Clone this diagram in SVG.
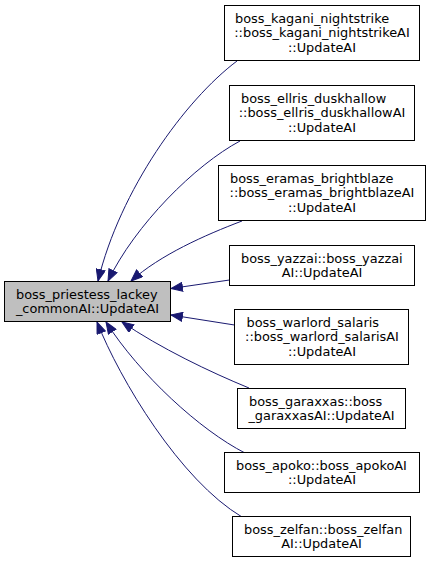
<svg xmlns="http://www.w3.org/2000/svg" width="431" height="566" viewBox="0 0 431 566">
<style>
.n rect{fill:#ffffff;stroke:#000000;stroke-width:1}
#main rect{fill:#bfbfbf}
text{font-family:"DejaVu Sans","Liberation Sans",sans-serif;font-size:12.9px;fill:#000000}
.m{text-anchor:middle}
.e path{fill:none;stroke:#191970;stroke-width:1;marker-end:url(#ah)}
</style>
<defs>
<marker id="ah" markerUnits="userSpaceOnUse" markerWidth="13" markerHeight="10" refX="12" refY="5" orient="auto">
<path d="M0.5,0.5 L12,5 L0.5,9.5 z" fill="#191970" stroke="#191970" stroke-width="1"/>
</marker>
</defs>
<rect width="431" height="566" fill="#ffffff"/>
<g class="e" id="edges">
<path d="M237,61 C185,100 120,190 98,281"/>
<path d="M240,141 C195,165 135,225 108,281"/>
<path d="M242,221 C205,235 160,255 131,281"/>
<path d="M229.5,280 L171,288.5"/>
<path d="M234.5,325 L171,315"/>
<path d="M249,388 C210,372 160,348 122,322"/>
<path d="M245,453 C200,430 140,375 106,322"/>
<path d="M242,517 C180,480 120,380 97,322"/>
</g>
<g class="n" id="main">
<rect x="4.5" y="281.5" width="166" height="40"/>
<text x="16" y="298.5">boss_priestess_lackey</text>
<text class="m" x="87.5" y="312.5">_commonAI::UpdateAI</text>
</g>
<g class="n" id="kagani">
<rect x="224.5" y="5.5" width="195" height="55"/>
<text x="235" y="22.5">boss_kagani_nightstrike</text>
<text class="m" x="322" y="37">::boss_kagani_nightstrikeAI</text>
<text class="m" x="322" y="51.5">::UpdateAI</text>
</g>
<g class="n" id="ellris">
<rect x="229.5" y="85.5" width="185" height="55"/>
<text x="241" y="102.5">boss_ellris_duskhallow</text>
<text class="m" x="322" y="117">::boss_ellris_duskhallowAI</text>
<text class="m" x="322" y="131.5">::UpdateAI</text>
</g>
<g class="n" id="eramas">
<rect x="218.5" y="165.5" width="207" height="55"/>
<text x="230" y="182.5">boss_eramas_brightblaze</text>
<text class="m" x="322" y="197">::boss_eramas_brightblazeAI</text>
<text class="m" x="322" y="211.5">::UpdateAI</text>
</g>
<g class="n" id="yazzai">
<rect x="229.5" y="245.5" width="185" height="40"/>
<text x="241" y="262.5">boss_yazzai::boss_yazzai</text>
<text class="m" x="322" y="276.5">AI::UpdateAI</text>
</g>
<g class="n" id="warlord">
<rect x="234.5" y="309.5" width="174" height="55"/>
<text x="246.5" y="326.5">boss_warlord_salaris</text>
<text class="m" x="322" y="341">::boss_warlord_salarisAI</text>
<text class="m" x="322" y="355.5">::UpdateAI</text>
</g>
<g class="n" id="garaxxas">
<rect x="237.5" y="388.5" width="168" height="40"/>
<text x="249" y="405.5">boss_garaxxas::boss</text>
<text class="m" x="321.5" y="419.5">_garaxxasAI::UpdateAI</text>
</g>
<g class="n" id="apoko">
<rect x="224.5" y="452.5" width="195" height="40"/>
<text x="236" y="469.5">boss_apoko::boss_apokoAI</text>
<text class="m" x="322" y="483.5">::UpdateAI</text>
</g>
<g class="n" id="zelfan">
<rect x="232.5" y="516.5" width="178" height="40"/>
<text x="244" y="533.5">boss_zelfan::boss_zelfan</text>
<text class="m" x="321.5" y="547.5">AI::UpdateAI</text>
</g>
</svg>
